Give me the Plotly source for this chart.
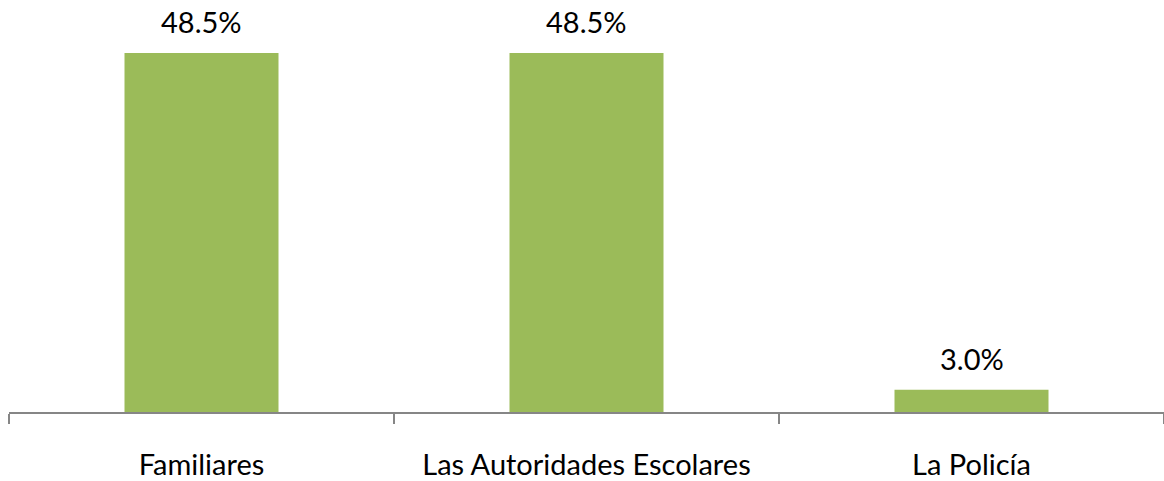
import plotly.graph_objects as go

categories = ["Familiares", "Las Autoridades Escolares", "La Policía"]
values = [48.5, 48.5, 3.0]

BAR_COLOUR = "#9BBB59"
AXIS_COLOUR = "#868686"
FONT = "Lato"

fig = go.Figure(
    go.Bar(
        x=categories,
        y=values,
        width=0.4,
        marker=dict(color=BAR_COLOUR, line=dict(width=0)),
        hovertemplate="%{x}: %{y:.1f}%<extra></extra>",
    )
)

for cat, val in zip(categories, values):
    fig.add_annotation(
        x=cat,
        y=val,
        text=f"{val:.1f}%",
        showarrow=False,
        yanchor="bottom",
        yshift=12,
        font=dict(family=FONT, size=29, color="black"),
    )

fig.update_layout(
    xaxis=dict(
        showline=True,
        linecolor=AXIS_COLOUR,
        linewidth=1.5,
        ticks="outside",
        tickson="boundaries",
        ticklen=10,
        tickcolor=AXIS_COLOUR,
        tickwidth=1.5,
        ticklabelstandoff=26,
        tickfont=dict(family=FONT, size=29, color="black"),
        showgrid=False,
        zeroline=False,
    ),
    yaxis=dict(
        range=[0, 53.9],
        visible=False,
        showgrid=False,
        zeroline=False,
    ),
    plot_bgcolor="white",
    paper_bgcolor="white",
    showlegend=False,
    margin=dict(l=9, r=0, t=13, b=66),
    width=1164,
    height=481,
)

# drop the default 8px body margin so the figure fills the window exactly
fig.write_html(
    "out.html",
    config={"displayModeBar": False},
    post_script="document.body.style.margin='0';",
)
